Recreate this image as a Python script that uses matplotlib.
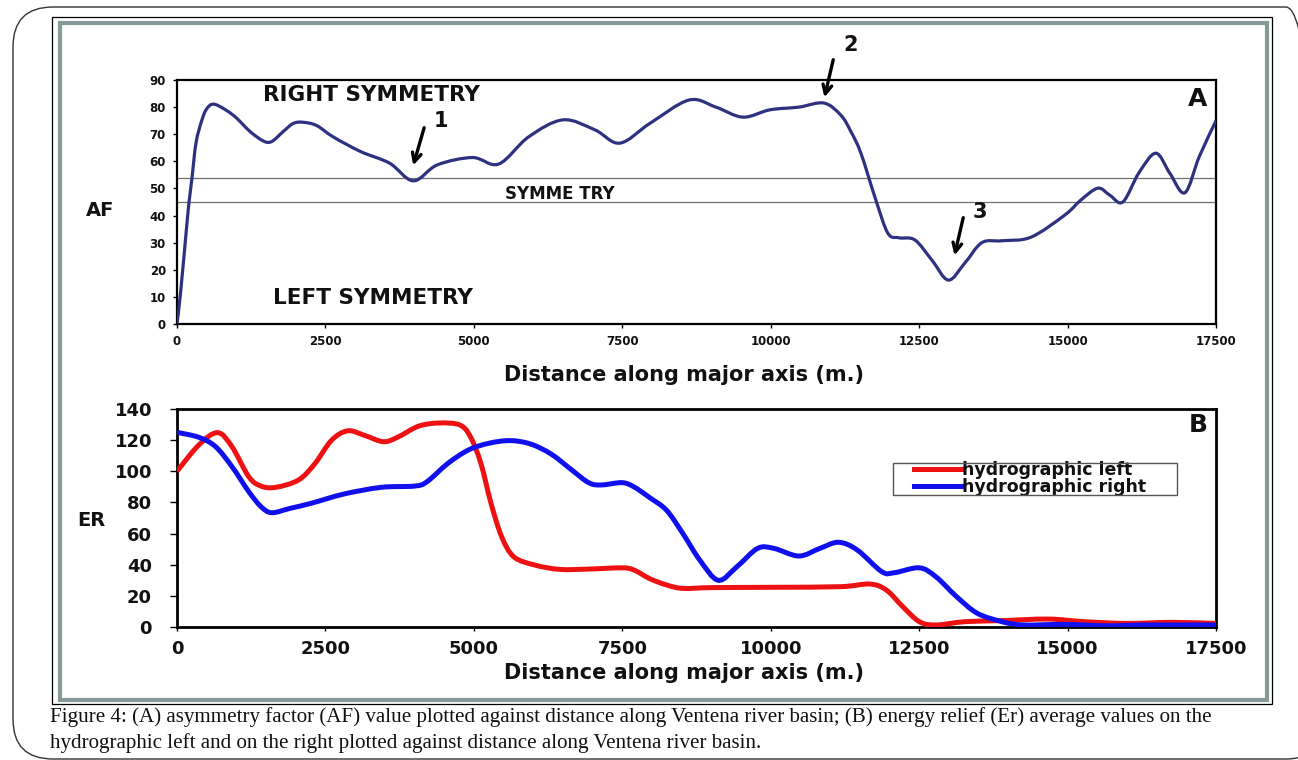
import matplotlib
matplotlib.use("Agg")
import matplotlib.pyplot as plt
import numpy as np
from matplotlib.patches import FancyBboxPatch, Rectangle, PathPatch
from matplotlib.path import Path
from matplotlib.lines import Line2D
from matplotlib.transforms import IdentityTransform

# ---------------- data ----------------
af_dist = [0, 62, 163, 203, 253, 320, 416, 505, 640, 948, 1230, 1455, 1595, 1790, 1960,
           2127, 2352, 2632, 3093, 3582, 3980, 4385, 4978, 5418, 5921, 6500, 7039, 7457,
           7965, 8622, 9077, 9531, 9986, 10474, 10896, 11182, 11350, 11519, 11771, 11973,
           12158, 12428, 12714, 12992, 13270, 13556, 13893, 14381, 14954, 15223, 15510,
           15712, 15931, 16200, 16486, 16720, 16975, 17217, 17500]
af_vals = [0, 12, 36, 45, 54, 66.8, 75, 79.5, 81, 77, 71, 67.5, 67.3, 71, 74,
           74.4, 73.2, 69, 63.6, 59.3, 52.8, 58.7, 61.4, 59, 69, 75.3, 71.6, 66.7,
           74, 82.6, 80, 76.3, 79, 80, 81.5, 77, 71, 63, 45.7, 33.5,
           31.8, 31, 23.6, 16.2, 22.5, 30, 30.7, 32, 40.2, 45.7, 50.1,
           47.5, 45, 55.7, 63, 55.7, 48.4, 61.7, 75]
sym_upper = 54
sym_lower = 45

left_dist = [0, 370, 685, 926, 1209, 1415, 1662, 2046, 2324, 2605, 2880, 3163, 3478, 3722,
             4070, 4420, 4766, 4944, 5119, 5288, 5468, 5675, 6025, 6445, 6933, 7494, 7696,
             7965, 8245, 8521, 9009, 10053, 11177, 11665, 11945, 12226, 12504, 12781,
             13270, 13893, 14668, 15291, 15998, 16756, 17500]
left_vals = [100, 117, 124.8, 115.8, 96.5, 90.5, 89.7, 94.4, 105, 120, 126, 123, 119, 122,
             129, 131, 129.7, 122, 105, 79.6, 58, 45, 39.8, 37, 37.2, 38, 36.6,
             31, 27, 24.8, 25.3, 25.5, 25.9, 27.6, 23.8, 13, 3.4, 1.3,
             3.4, 4.1, 5.1, 3.4, 2.3, 3, 2.3]

right_dist = [0, 370, 650, 926, 1209, 1415, 1595, 1905, 2256, 2812, 3442, 4001, 4210, 4560,
              4910, 5254, 5608, 5956, 6304, 6650, 6933, 7140, 7494, 7696, 7965, 8245, 8521,
              8805, 9117, 9430, 9780, 10053, 10474, 10828, 11141, 11456, 11872, 12085,
              12504, 12781, 13130, 13480, 13900, 14250, 14950, 15645, 16345, 17500]
right_vals = [125, 121.8, 115.8, 103, 86.9, 77.3, 73.4, 76.2, 79.4, 85.4, 89.7, 90.5, 93.3, 105,
              113.7, 118, 119.7, 117.5, 111, 100.8, 92.7, 91.2, 92.7, 90, 83, 75, 60,
              43, 30, 38.7, 50.5, 50.5, 45.6, 50.5, 54.4, 49.5, 35.5, 34.9,
              38, 32.3, 19.5, 8.8, 3.4, 1.3, 1.7, 0.8, 1.3, 1.3]

series_labels = ["hydrographic left", "hydrographic right"]
x_ticks = [0, 2500, 5000, 7500, 10000, 12500, 15000, 17500]
af_yticks = [0, 10, 20, 30, 40, 50, 60, 70, 80, 90]
er_yticks = [0, 20, 40, 60, 80, 100, 120, 140]

caption1 = ("Figure 4: (A) asymmetry factor (AF) value plotted against distance along Ventena "
            "river basin; (B) energy relief (Er) average values on the")
caption2 = "hydrographic left and on the right plotted against distance along Ventena river basin."

# ---------------- helpers ----------------
W, H = 1298, 760
SANS = "DejaVu Sans"
SERIF = "Liberation Serif"


def fx(px):
    return px / W


def fy(py):
    return 1 - py / H


def smooth_path(xs, ys):
    """Excel-like smoothed line: Catmull-Rom segments as cubic Bezier curves."""
    p = np.column_stack([xs, ys]).astype(float)
    n = len(p)
    verts = [p[0]]
    codes = [Path.MOVETO]
    for i in range(n - 1):
        p0 = p[i - 1] if i > 0 else p[i]
        p1 = p[i]
        p2 = p[i + 1]
        p3 = p[i + 2] if i + 2 < n else p[i + 1]
        c1 = p1 + (p2 - p0) / 6.0
        c2 = p2 - (p3 - p1) / 6.0
        verts += [c1, c2, p2]
        codes += [Path.CURVE4] * 3
    return Path(verts, codes)


def draw_smooth(ax, xs, ys, color, lw):
    patch = PathPatch(smooth_path(xs, ys), fill=False, edgecolor=color, lw=lw,
                      joinstyle="round", capstyle="butt", transform=ax.transData, zorder=3)
    ax.add_patch(patch)


# ---------------- figure ----------------
fig = plt.figure(figsize=(W / 100, H / 100), dpi=100)
fig.patch.set_facecolor("white")

# outer rounded frame
fig.add_artist(FancyBboxPatch((13, 1), 1326 - 13, 753 - 1,
                              boxstyle="round,pad=0,rounding_size=40",
                              transform=IdentityTransform(), fill=False,
                              edgecolor="#333333", lw=1.0))
# inner frame
fig.add_artist(Rectangle((52, H - 704), 1272 - 52, 704 - 17, transform=IdentityTransform(),
                         fill=False, edgecolor="black", lw=0.9))
fig.add_artist(Rectangle((60, H - 700), 1267 - 60, 700 - 23, transform=IdentityTransform(),
                         fill=False, edgecolor="#869a9a", lw=3.0))

# ---------------- panel A ----------------
axA = fig.add_axes([fx(177), fy(324), fx(1216) - fx(177), fy(80) - fy(324)])
draw_smooth(axA, af_dist, af_vals, "#2e3180", 2.3)
axA.axhline(sym_upper, color="#707070", lw=0.9, zorder=2)
axA.axhline(sym_lower, color="#707070", lw=0.9, zorder=2)
axA.set_xlim(0, 17500)
axA.set_ylim(0, 90)
axA.set_xticks(x_ticks)
axA.set_yticks(af_yticks)
axA.tick_params(axis="both", direction="out", length=3, width=1, labelsize=8.5, colors="black")
axA.tick_params(axis="y", pad=5)
axA.tick_params(axis="x", pad=5)
for lab in axA.get_xticklabels() + axA.get_yticklabels():
    lab.set_fontweight("bold")
    lab.set_family(SANS)
    lab.set_color("#111111")
for s in axA.spines.values():
    s.set_linewidth(1.6)
    s.set_color("black")

# arrows in panel A
arrow_kw = dict(arrowstyle="->", lw=2.4, color="black", mutation_scale=16)
axA.annotate("", xy=(3966, 57.5), xytext=(4176, 73.4), arrowprops=arrow_kw, annotation_clip=False)
axA.annotate("", xy=(10895, 82.6), xytext=(11064, 98.5), arrowprops=arrow_kw, annotation_clip=False)
axA.annotate("", xy=(13085, 24.3), xytext=(13253, 40.2), arrowprops=arrow_kw, annotation_clip=False)

# ---------------- panel B ----------------
axB = fig.add_axes([fx(177), fy(627), fx(1216) - fx(177), fy(409) - fy(627)])
red, blue = "#ee1111", "#1010ee"
draw_smooth(axB, left_dist, left_vals, red, 3.6)
draw_smooth(axB, right_dist, right_vals, blue, 3.6)
axB.set_xlim(0, 17500)
axB.set_ylim(0, 140)
axB.set_xticks(x_ticks)
axB.set_yticks(er_yticks)
axB.tick_params(axis="both", direction="out", width=1, labelsize=13, colors="black")
axB.tick_params(axis="y", length=5, pad=13)
axB.tick_params(axis="x", length=3, pad=6)
for lab in axB.get_xticklabels() + axB.get_yticklabels():
    lab.set_fontweight("bold")
    lab.set_family(SANS)
    lab.set_color("#111111")
for s in axB.spines.values():
    s.set_linewidth(2.0)
    s.set_color("black")

handles = [Line2D([], [], color=red, lw=3.6), Line2D([], [], color=blue, lw=3.6)]
leg = axB.legend(handles, series_labels, loc="upper left",
                 bbox_to_anchor=(fx(914), fy(461)),
                 bbox_transform=fig.transFigure, frameon=False,
                 prop={"family": SANS, "weight": "bold", "size": 12.5},
                 handlelength=2.7, handletextpad=0.05, borderpad=0.0, labelspacing=-0.05,
                 borderaxespad=0)
for tx in leg.get_texts():
    tx.set_color("#111111")
fig.add_artist(Rectangle((893, H - 495), 1177 - 893, 495 - 463, transform=IdentityTransform(),
                         fill=False, edgecolor="#555555", lw=1.0))

# ---------------- texts ----------------
def t(px, py, s, size, ha="center", va="center", **kw):
    fig.text(fx(px), fy(py), s, ha=ha, va=va, fontsize=size, family=SANS,
             fontweight="bold", color="#111111", **kw)


t(371, 95, "RIGHT SYMMETRY", 15.5)
t(373, 298, "LEFT SYMMETRY", 15.5)
t(560, 194, "SYMME TRY", 12)
t(1198, 99, "A", 18)
t(1198, 425, "B", 18)
t(100, 210, "AF", 14)
t(91, 520, "ER", 14)
t(684, 375, "Distance along major axis (m.)", 15)
t(684, 673, "Distance along major axis (m.)", 15)
t(441, 121, "1", 15)
t(851, 45, "2", 15)
t(980, 212, "3", 15)

fig.text(fx(50), fy(722), caption1, ha="left", va="baseline", fontsize=15.1, family=SERIF,
         color="#111111")
fig.text(fx(50), fy(748), caption2, ha="left", va="baseline", fontsize=15.1, family=SERIF,
         color="#111111")

fig.savefig("out.png", dpi=100)
